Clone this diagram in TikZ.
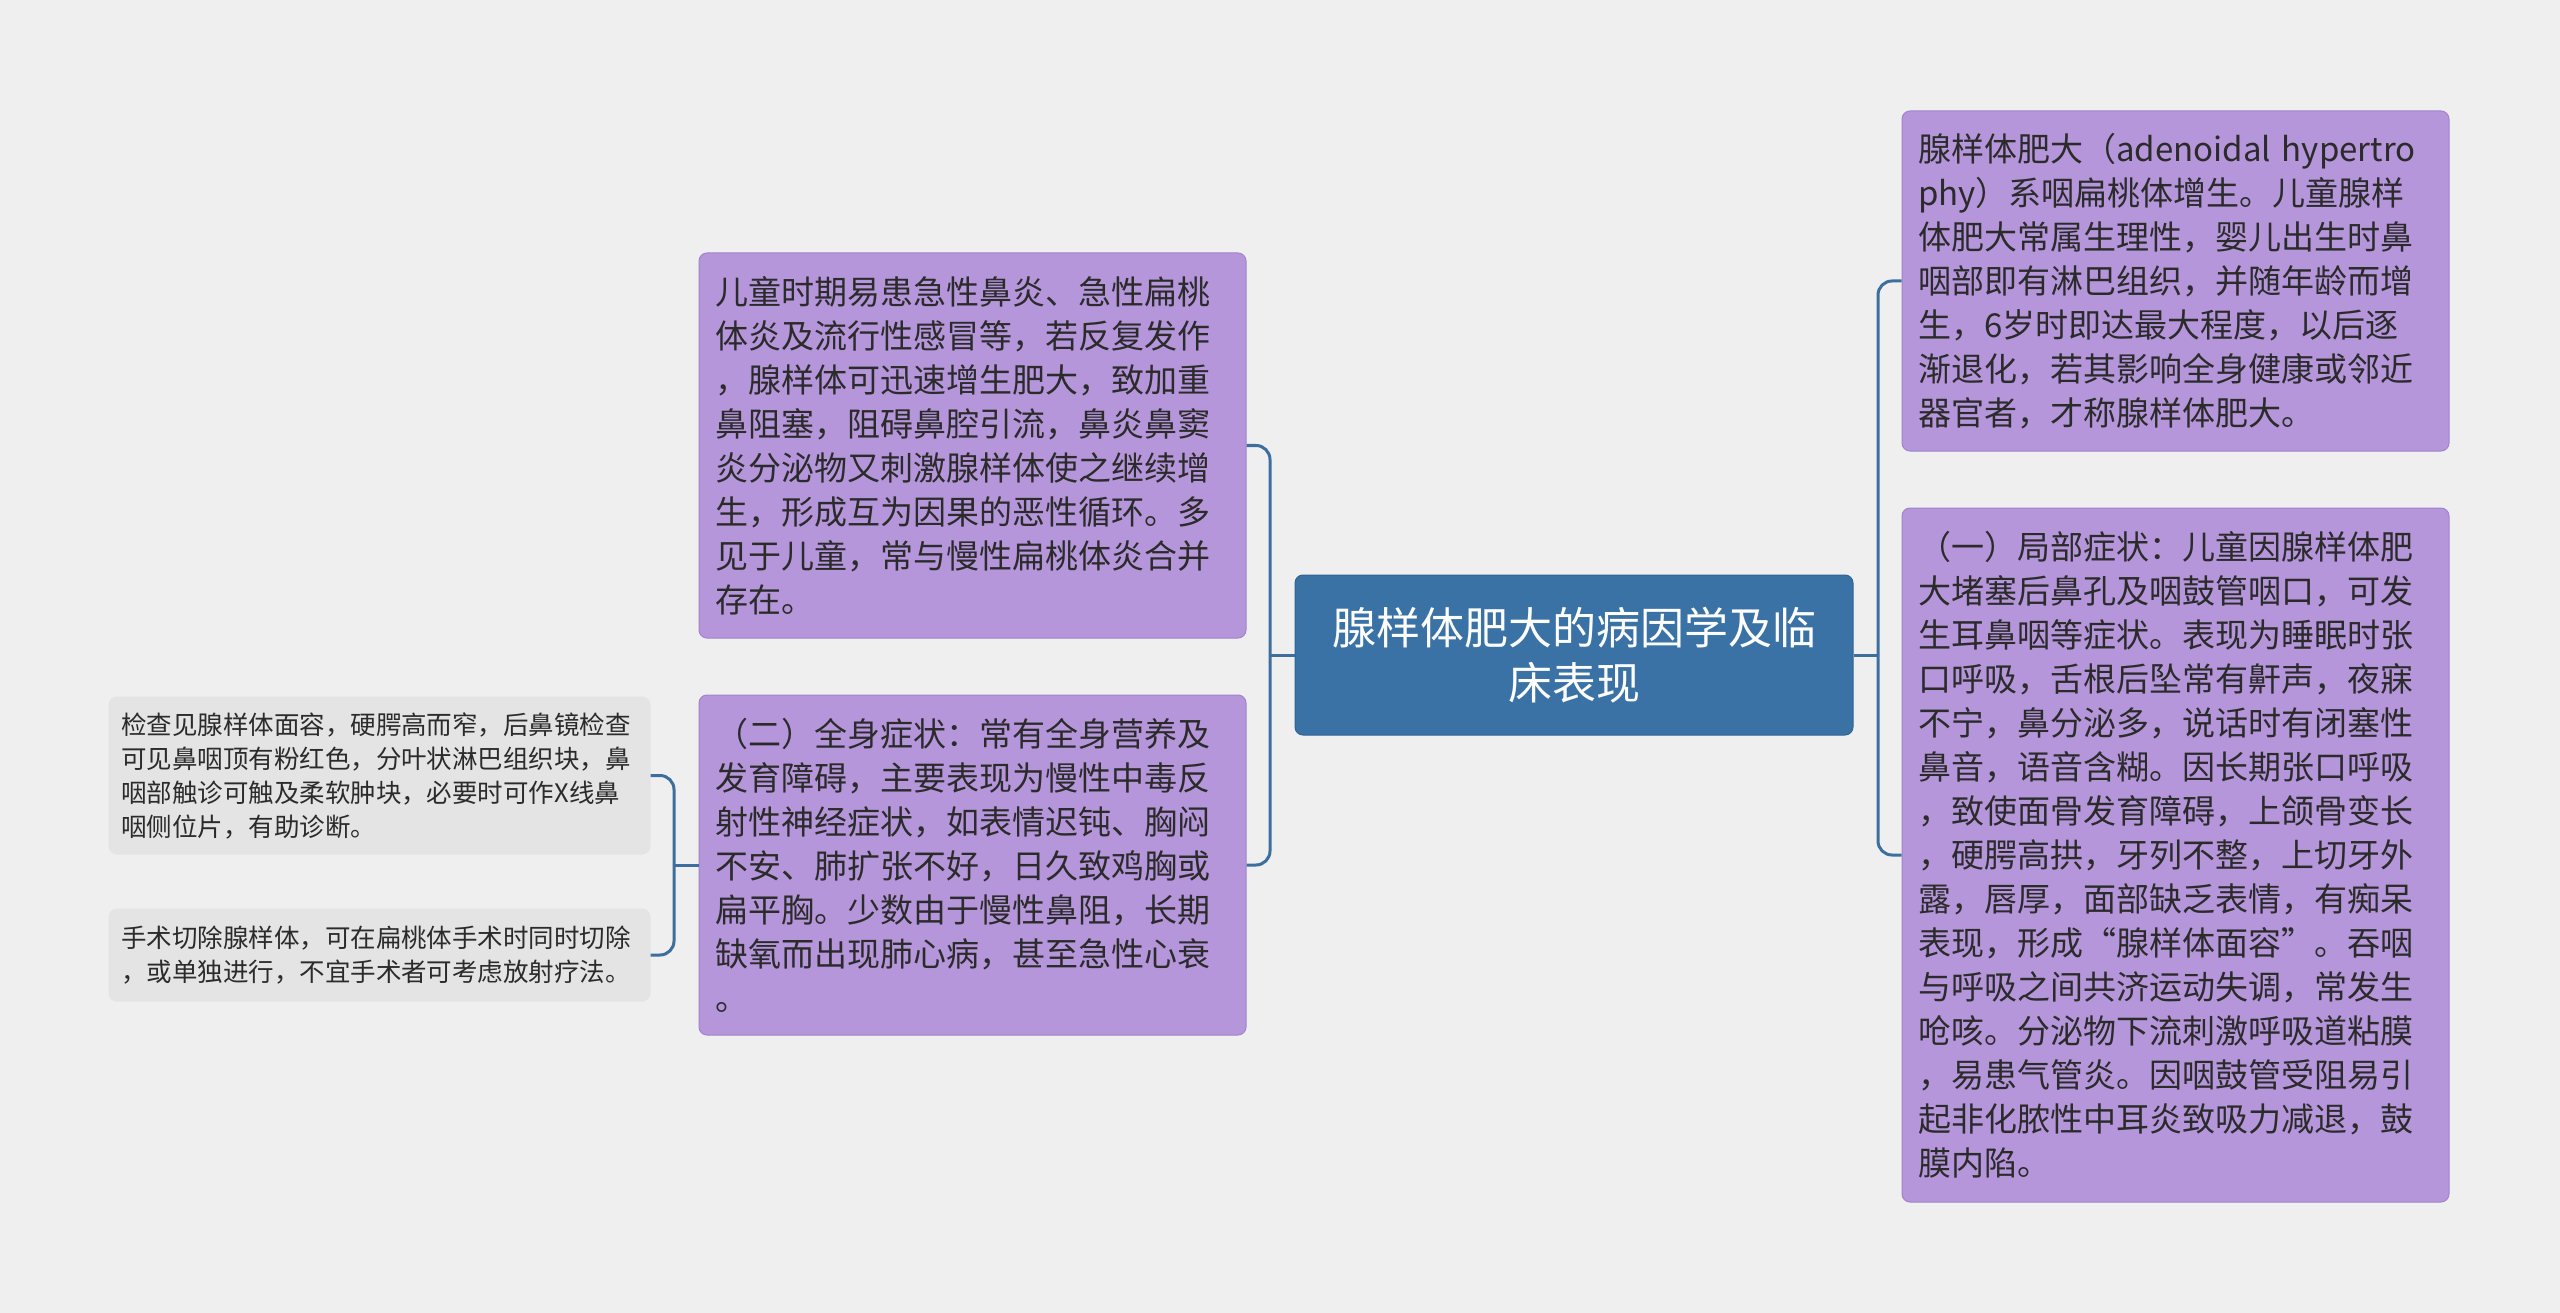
\documentclass[tikz,border=0pt]{standalone}
\usepackage{fontspec}
\setmainfont{Noto Sans CJK SC}
\definecolor{bgc}{HTML}{EFEFEF}
\definecolor{pfill}{HTML}{B596DA}
\definecolor{pline}{HTML}{A283CC}
\definecolor{gfill}{HTML}{E4E4E4}
\definecolor{cfill}{HTML}{3B72A5}
\definecolor{cline}{HTML}{2F6394}
\definecolor{lnc}{HTML}{3C6E9E}
\definecolor{txt}{HTML}{2B2B2B}
\begin{document}
\begin{tikzpicture}[x=1pt,y=-1pt,
  purplebox/.style={draw=pline, fill=pfill, rounded corners=8pt, line width=1pt,
    inner xsep=16pt, inner ysep=0pt, text width=515pt, align=left, text=txt,
    font=\fontsize{33}{44}\selectfont},
  graybox/.style={draw=gfill, fill=gfill, rounded corners=8pt, line width=1pt,
    inner xsep=12pt, inner ysep=0pt, text width=517pt, align=left, text=txt,
    font=\fontsize{25.5}{34}\selectfont},
  centerbox/.style={draw=cline, fill=cfill, rounded corners=8pt, line width=1pt,
    inner xsep=19pt, inner ysep=0pt, text width=520pt, align=center, text=white,
    font=\fontsize{44}{55}\selectfont},
  conn/.style={draw=lnc, line width=3pt, rounded corners=14pt}]
\useasboundingbox (0,0) rectangle (2560,1313);
\fill[bgc] (0,0) rectangle (2560,1313);

\node[centerbox, minimum height=160pt] (c) at (1574,655)
  {腺样体肥大的病因学及临\\床表现};

\node[purplebox, minimum height=385pt] (lt) at (972.5,445.5)
  {儿童时期易患急性鼻炎、急性扁桃\\
   体炎及流行性感冒等，若反复发作\\
   ，腺样体可迅速增生肥大，致加重\\
   鼻阻塞，阻碍鼻腔引流，鼻炎鼻窦\\
   炎分泌物又刺激腺样体使之继续增\\
   生，形成互为因果的恶性循环。多\\
   见于儿童，常与慢性扁桃体炎合并\\
   存在。};

\node[purplebox, minimum height=340pt] (lb) at (972.5,865)
  {（二）全身症状：常有全身营养及\\
   发育障碍，主要表现为慢性中毒反\\
   射性神经症状，如表情迟钝、胸闷\\
   不安、肺扩张不好，日久致鸡胸或\\
   扁平胸。少数由于慢性鼻阻，长期\\
   缺氧而出现肺心病，甚至急性心衰\\
   。};

\node[graybox, minimum height=157pt] (fl1) at (379.5,775.5)
  {检查见腺样体面容，硬腭高而窄，后鼻镜检查\\
   可见鼻咽顶有粉红色，分叶状淋巴组织块，鼻\\
   咽部触诊可触及柔软肿块，必要时可作X线鼻\\
   咽侧位片，有助诊断。};

\node[graybox, minimum height=92pt] (fl2) at (379.5,955)
  {手术切除腺样体，可在扁桃体手术时同时切除\\
   ，或单独进行，不宜手术者可考虑放射疗法。};

\node[purplebox, minimum height=340pt] (rt) at (2175.5,281)
  {腺样体肥大（adenoidal~hypertro\\
   phy）系咽扁桃体增生。儿童腺样\\
   体肥大常属生理性，婴儿出生时鼻\\
   咽部即有淋巴组织，并随年龄而增\\
   生，6岁时即达最大程度，以后逐\\
   渐退化，若其影响全身健康或邻近\\
   器官者，才称腺样体肥大。};

\node[purplebox, minimum height=694pt] (rb) at (2175.5,855)
  {（一）局部症状：儿童因腺样体肥\\
   大堵塞后鼻孔及咽鼓管咽口，可发\\
   生耳鼻咽等症状。表现为睡眠时张\\
   口呼吸，舌根后坠常有鼾声，夜寐\\
   不宁，鼻分泌多，说话时有闭塞性\\
   鼻音，语音含糊。因长期张口呼吸\\
   ，致使面骨发育障碍，上颌骨变长\\
   ，硬腭高拱，牙列不整，上切牙外\\
   露，唇厚，面部缺乏表情，有痴呆\\
   表现，形成“腺样体面容”。吞咽\\
   与呼吸之间共济运动失调，常发生\\
   呛咳。分泌物下流刺激呼吸道粘膜\\
   ，易患气管炎。因咽鼓管受阻易引\\
   起非化脓性中耳炎致吸力减退，鼓\\
   膜内陷。};

\coordinate (jl) at (1270,655);
\coordinate (jr) at (1878,655);
\coordinate (jf) at (674,865);

\draw[conn] (c.west) -- (jl);
\draw[conn] (jl) |- (lt.east);
\draw[conn] (jl) |- (lb.east);
\draw[conn] (c.east) -- (jr);
\draw[conn] (jr) |- (rt.west);
\draw[conn] (jr) |- (rb.west);
\draw[conn] (lb.west) -- (jf);
\draw[conn] (jf) |- (fl1.east);
\draw[conn] (jf) |- (fl2.east);
\end{tikzpicture}
\end{document}
